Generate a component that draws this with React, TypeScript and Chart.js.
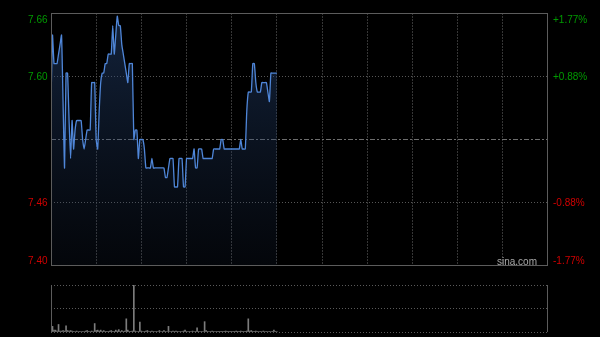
import React, { useEffect, useRef } from "react";
import { Chart, registerables } from "chart.js";

Chart.register(...registerables);

// ---------- data ----------
const prevClose = 7.53;
const rangePct = 0.0177;
const sessionMinutes = 330; // 09:30-12:00 + 13:00-16:00
const gridStepMinutes = 30;

// one price per minute, 09:30 .. 12:00
const prices = [
  7.57, 7.64, 7.61, 7.61, 7.61, 7.62, 7.63, 7.64, 7.57, 7.50,
  7.60, 7.60, 7.55, 7.51, 7.55, 7.52, 7.54, 7.55, 7.55, 7.55,
  7.55, 7.53, 7.52, 7.53, 7.54, 7.54, 7.54, 7.59, 7.59, 7.59,
  7.53, 7.52, 7.56, 7.59, 7.60, 7.60, 7.61, 7.61, 7.62, 7.62,
  7.62, 7.65, 7.62, 7.64, 7.66, 7.65, 7.65, 7.63, 7.62, 7.61,
  7.60, 7.59, 7.61, 7.61, 7.61, 7.53, 7.54, 7.54, 7.51, 7.53,
  7.53, 7.53, 7.52, 7.50, 7.50, 7.50, 7.50, 7.51, 7.50, 7.50,
  7.50, 7.50, 7.50, 7.50, 7.50, 7.50, 7.49, 7.49, 7.50, 7.51,
  7.51, 7.51, 7.48, 7.48, 7.48, 7.51, 7.51, 7.51, 7.48, 7.48,
  7.51, 7.51, 7.51, 7.51, 7.51, 7.52, 7.50, 7.50, 7.52, 7.52,
  7.52, 7.51, 7.51, 7.51, 7.51, 7.51, 7.51, 7.51, 7.52, 7.52,
  7.52, 7.52, 7.52, 7.53, 7.53, 7.52, 7.52, 7.52, 7.52, 7.52,
  7.52, 7.52, 7.52, 7.52, 7.52, 7.52, 7.53, 7.52, 7.52, 7.52,
  7.56, 7.58, 7.58, 7.58, 7.61, 7.61, 7.59, 7.58, 7.58, 7.58,
  7.59, 7.59, 7.59, 7.59, 7.58, 7.57, 7.60, 7.60, 7.60, 7.60,
  7.60,
];

// relative volume per minute
const volumes = [
  2, 12, 4, 4, 2, 16, 2, 2, 3, 2,
  13, 3, 2, 3, 2, 1, 1, 2, 1, 1,
  1, 1, 1, 2, 3, 1, 1, 2, 1, 18,
  3, 4, 2, 4, 1, 3, 1, 1, 1, 2,
  3, 1, 1, 4, 2, 5, 1, 3, 1, 2,
  28, 4, 1, 1, 2, 100, 2, 1, 1, 21,
  2, 1, 1, 2, 3, 1, 1, 2, 1, 1,
  1, 1, 3, 1, 1, 3, 1, 1, 12, 1,
  1, 2, 1, 2, 1, 1, 1, 1, 2, 4,
  1, 1, 1, 1, 2, 1, 1, 9, 1, 1,
  1, 1, 22, 3, 1, 1, 1, 2, 1, 1,
  1, 1, 1, 1, 1, 1, 2, 1, 1, 1,
  1, 1, 1, 2, 1, 1, 2, 1, 1, 1,
  2, 28, 2, 3, 1, 1, 2, 1, 1, 1,
  1, 2, 1, 1, 1, 1, 1, 1, 4, 1,
  1,
];

const priceTickLabels = ["7.66", "7.60", "7.46", "7.40"];
const pctTickLabels = ["+1.77%", "+0.88%", "-0.88%", "-1.77%"];
const watermark = "sina.com";

// ---------- styles ----------
const W = 600;
const H = 337;
const upColor = "#009a00";
const downColor = "#d00000";
const lineColor = "#4f86d8";
const FONT = '10px "Liberation Sans", Arial, sans-serif';

const yMax = prevClose * (1 + rangePct);
const yMin = prevClose * (1 - rangePct);
const priceTickValues = [
  yMin,
  prevClose * (1 - rangePct / 2),
  prevClose,
  prevClose * (1 + rangePct / 2),
  yMax,
];

const priceDecor = {
  id: "priceDecor",
  afterDraw(chart: any) {
    const { ctx, chartArea: a, scales } = chart;
    const y = scales.y;
    ctx.save();
    ctx.setLineDash([]);
    ctx.strokeStyle = "#5c5c5c";
    ctx.lineWidth = 1;
    ctx.strokeRect(
      Math.round(a.left) + 0.5,
      Math.round(a.top) + 0.5,
      Math.round(a.right - a.left) - 1,
      Math.round(a.bottom - a.top) - 1
    );
    ctx.font = FONT;
    const labelVals = [priceTickValues[4], priceTickValues[3], priceTickValues[1], priceTickValues[0]];
    labelVals.forEach((v, i) => {
      let py = y.getPixelForValue(v);
      let base: CanvasTextBaseline = "middle";
      if (i === 0) {
        base = "alphabetic";
        py = a.top + 10;
      } else if (i === labelVals.length - 1) {
        base = "alphabetic";
        py = a.bottom - 2;
      } else {
        py = py + 0.5;
      }
      ctx.textBaseline = base;
      ctx.fillStyle = i < 2 ? upColor : downColor;
      ctx.textAlign = "right";
      ctx.fillText(priceTickLabels[i], a.left - 3.5, py);
      ctx.textAlign = "left";
      ctx.fillText(pctTickLabels[i], a.right + 5, py);
    });
    ctx.fillStyle = "#a8a8a8";
    ctx.textAlign = "right";
    ctx.textBaseline = "alphabetic";
    ctx.fillText(watermark, a.right - 11, a.bottom - 1.5);
    ctx.restore();
  },
};

const volDecor = {
  id: "volDecor",
  afterDraw(chart: any) {
    const { ctx, chartArea: a } = chart;
    ctx.save();
    ctx.setLineDash([]);
    ctx.strokeStyle = "#5c5c5c";
    ctx.lineWidth = 1;
    ctx.beginPath();
    ctx.moveTo(Math.round(a.left) + 0.5, a.top);
    ctx.lineTo(Math.round(a.left) + 0.5, a.bottom);
    ctx.moveTo(Math.round(a.right) - 0.5, a.top);
    ctx.lineTo(Math.round(a.right) - 0.5, a.bottom);
    ctx.stroke();
    ctx.restore();
  },
};

export default function App() {
  const priceRef = useRef<HTMLCanvasElement>(null);
  const volRef = useRef<HTMLCanvasElement>(null);

  useEffect(() => {
    document.body.style.margin = "0";
    document.body.style.background = "#000";
    const xTickCount = sessionMinutes / gridStepMinutes;

    const priceChart = new Chart(priceRef.current!, {
      type: "line",
      data: {
        datasets: [
          {
            data: prices.map((p, i) => ({ x: i, y: p })),
            borderColor: lineColor,
            borderWidth: 1.3,
            pointRadius: 0,
            tension: 0.15,
            fill: "start",
            backgroundColor: (c: any) => {
              const { chart } = c;
              const area = chart.chartArea;
              if (!area) return "rgba(30,55,95,0.35)";
              const g = chart.ctx.createLinearGradient(0, area.top, 0, area.bottom);
              g.addColorStop(0, "rgba(38,70,120,0.5)");
              g.addColorStop(1, "rgba(30,50,85,0.12)");
              return g;
            },
          },
        ],
      },
      options: {
        animation: false,
        responsive: false,
        maintainAspectRatio: false,
        layout: { padding: { left: 51, right: 52, top: 13, bottom: H - 266 } },
        plugins: { legend: { display: false }, tooltip: { enabled: false } },
        scales: {
          x: {
            type: "linear",
            min: 0,
            max: sessionMinutes,
            ticks: { display: false, stepSize: gridStepMinutes },
            grid: {
              drawTicks: false,
              color: (c: any) =>
                c.index === 0 || c.index === xTickCount ? "rgba(0,0,0,0)" : "#363636",
            },
            border: { display: false, dash: [2, 1] },
          },
          y: {
            min: yMin,
            max: yMax,
            afterBuildTicks: (s: any) => {
              s.ticks = priceTickValues.map((v) => ({ value: v }));
            },
            ticks: { display: false },
            grid: {
              drawTicks: false,
              color: (c: any) =>
                c.index === 0 || c.index === 4
                  ? "rgba(0,0,0,0)"
                  : c.index === 2
                  ? "#6e6e6e"
                  : "#565656",
            },
            border: {
              display: false,
              dash: (c: any) => (c.index === 2 ? [5, 2, 2, 2] : [1, 2]),
            },
          },
        },
      },
      plugins: [priceDecor],
    });

    const volMax = Math.max(...volumes);
    const volChart = new Chart(volRef.current!, {
      type: "bar",
      data: {
        datasets: [
          {
            data: volumes.map((v, i) => ({ x: i, y: v })),
            backgroundColor: "#7c7c7c",
            barThickness: 1,
            categoryPercentage: 1,
            barPercentage: 1,
          },
        ],
      },
      options: {
        animation: false,
        responsive: false,
        maintainAspectRatio: false,
        layout: { padding: { left: 51, right: 52, top: 285, bottom: H - 332 } },
        plugins: { legend: { display: false }, tooltip: { enabled: false } },
        scales: {
          x: {
            type: "linear",
            min: 0,
            max: sessionMinutes,
            offset: false,
            ticks: { display: false },
            grid: { display: false, drawTicks: false },
            border: { display: false },
          },
          y: {
            min: 0,
            max: volMax,
            afterBuildTicks: (s: any) => {
              s.ticks = [0, volMax / 2, volMax].map((v) => ({ value: v }));
            },
            ticks: { display: false },
            grid: { drawTicks: false, color: "#5a5a5a" },
            border: { display: false, dash: [1, 2] },
          },
        },
      },
      plugins: [volDecor],
    });

    return () => {
      priceChart.destroy();
      volChart.destroy();
    };
  }, []);

  return (
    <div style={{ position: "relative", width: W, height: H, background: "#000" }}>
      <canvas
        ref={priceRef}
        width={W}
        height={H}
        style={{ position: "absolute", left: 0, top: 0, width: W, height: H }}
      />
      <canvas
        ref={volRef}
        width={W}
        height={H}
        style={{ position: "absolute", left: 0, top: 0, width: W, height: H }}
      />
    </div>
  );
}
